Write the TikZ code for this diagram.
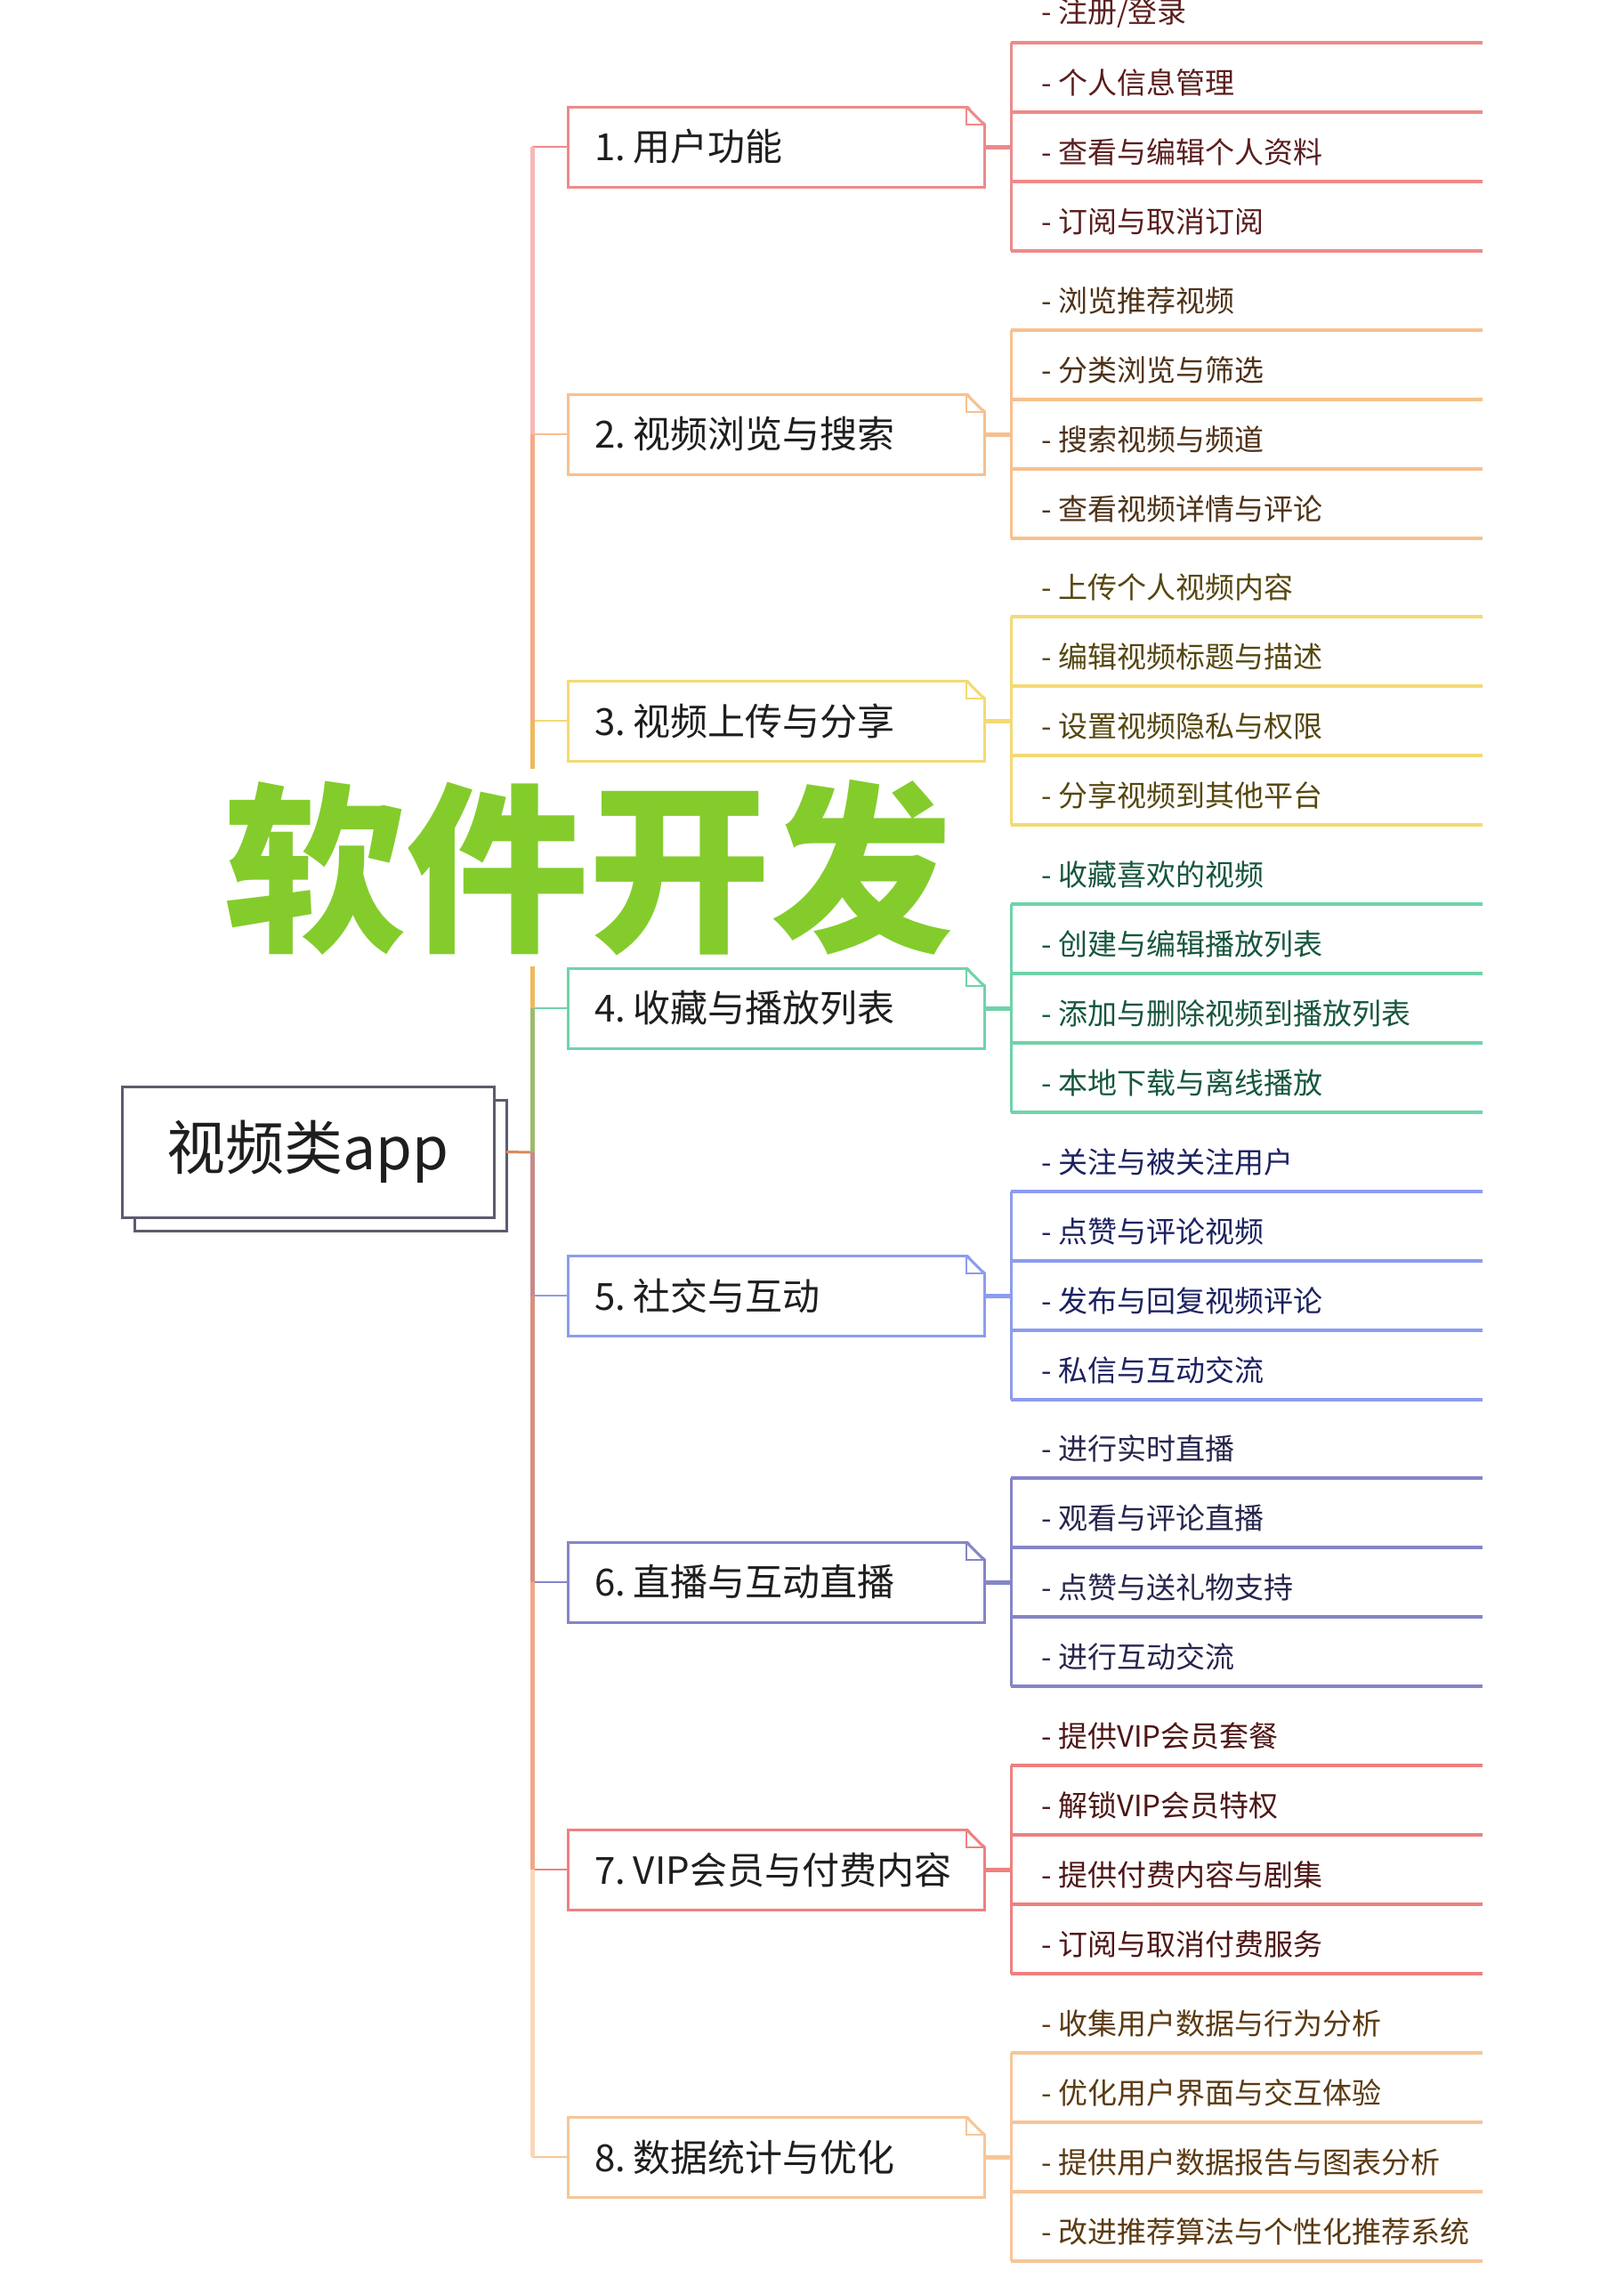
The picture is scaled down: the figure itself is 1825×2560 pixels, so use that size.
\documentclass[tikz,border=0pt]{standalone}
\usepackage{fontspec}
\setmainfont{Noto Sans CJK SC}
\usetikzlibrary{shadows}
\definecolor{g1}{HTML}{EE8A8A}\definecolor{t1}{HTML}{5A1E1E}
\definecolor{g2}{HTML}{F7C08F}\definecolor{t2}{HTML}{4E3218}
\definecolor{g3}{HTML}{F3DA74}\definecolor{t3}{HTML}{55470F}
\definecolor{g4}{HTML}{6FD3AA}\definecolor{t4}{HTML}{17573D}
\definecolor{g5}{HTML}{8C9CEE}\definecolor{t5}{HTML}{1C2260}
\definecolor{g6}{HTML}{8585C8}\definecolor{t6}{HTML}{26264E}
\definecolor{g7}{HTML}{EE8080}\definecolor{t7}{HTML}{4E1616}
\definecolor{g8}{HTML}{F6C698}\definecolor{t8}{HTML}{5A3A12}
\definecolor{tr1}{HTML}{F7B8B8}\definecolor{tr2}{HTML}{F5AA88}
\definecolor{tr3}{HTML}{F0B85A}\definecolor{tr4}{HTML}{9CBB6C}
\definecolor{tr5}{HTML}{C88A8A}\definecolor{tr6}{HTML}{D8907F}
\definecolor{tr7}{HTML}{F2A888}\definecolor{tr8}{HTML}{F9D9B9}
\definecolor{rootline}{HTML}{5C5C6E}\definecolor{mainconn}{HTML}{D88A60}
\definecolor{softgreen}{HTML}{84CC2C}\definecolor{cattext}{HTML}{1E1E1E}
\newcommand{\numgap}{\hspace{9pt}}
\tikzset{
  catbox/.style={rectangle, fill=white, line width=3pt, outer sep=0pt,
    minimum height=90pt, inner xsep=30pt, inner ysep=0pt, text width=408pt,
    align=left, text=cattext, font=\fontsize{42}{48}\selectfont},
  leafnode/.style={anchor=west, inner sep=0pt, font=\fontsize{33}{40}\selectfont},
  underline/.style={line width=4pt},
  bracketline/.style={line width=3pt},
  boxconn/.style={line width=5pt},
  branchconn/.style={line width=2.5pt},
  trunkline/.style={line width=5pt},
  rootbox/.style={rectangle, draw=rootline, fill=white, line width=3pt, outer sep=0pt,
    minimum width=418pt, minimum height=147pt, text=cattext,
    font=\fontsize{66}{72}\selectfont,
    copy shadow={shadow xshift=14pt, shadow yshift=-15pt, draw=rootline, fill=white, line width=3pt}},
}
\newcommand{\mmgroup}[9]{%
  \node[catbox, draw=#3] (c#1) at (872,#2) {\mbox{#1.\numgap#5}};
  \fill[white] ([xshift=-20pt,yshift=3pt]c#1.north east) -- ([xshift=3pt,yshift=3pt]c#1.north east) -- ([xshift=3pt,yshift=-20pt]c#1.north east) -- cycle;
  \draw[#3, line width=3pt] ([xshift=-20pt]c#1.north east) -- ([yshift=-20pt]c#1.north east);
  \draw[#3, line width=2pt] ([xshift=-20pt]c#1.north east) -- ([xshift=-20pt,yshift=-20pt]c#1.north east) -- ([yshift=-20pt]c#1.north east);
  \coordinate (t#1) at (598,#2);
  \draw[#3, branchconn] (t#1) -- (c#1.west);
  \coordinate (j#1) at (1136,#2);
  \draw[#3, boxconn] (c#1.east) -- (j#1);
  \coordinate (ja#1) at (1136,#2-117);
  \coordinate (jb#1) at (1136,#2+117);
  \draw[#3, bracketline] (ja#1) -- (jb#1);
  \foreach \o/\n in {-117/a,-39/b,39/c,117/d}{
    \coordinate (u#1\n) at (1136,#2+\o);
    \coordinate (v#1\n) at (1666,#2+\o);
    \draw[#3, underline] (u#1\n) -- (v#1\n);
  }
  \node[leafnode, text=t#1] (l#1a) at (1170,#2-150) {- #6};
  \node[leafnode, text=t#1] (l#1b) at (1170,#2-72) {- #7};
  \node[leafnode, text=t#1] (l#1c) at (1170,#2+6) {- #8};
  \node[leafnode, text=t#1] (l#1d) at (1170,#2+84) {- #9};
}
\begin{document}
\begin{tikzpicture}[x=1pt,y=-1pt]
\useasboundingbox (0,0) rectangle (1825,2560);
\fill[white] (0,0) rectangle (1825,2560);

\mmgroup{1}{165}{g1}{t1}{用户功能}{注册/登录}{个人信息管理}{查看与编辑个人资料}{订阅与取消订阅}
\mmgroup{2}{488}{g2}{t2}{视频浏览与搜索}{浏览推荐视频}{分类浏览与筛选}{搜索视频与频道}{查看视频详情与评论}
\mmgroup{3}{810}{g3}{t3}{视频上传与分享}{上传个人视频内容}{编辑视频标题与描述}{设置视频隐私与权限}{分享视频到其他平台}
\mmgroup{4}{1133}{g4}{t4}{收藏与播放列表}{收藏喜欢的视频}{创建与编辑播放列表}{添加与删除视频到播放列表}{本地下载与离线播放}
\mmgroup{5}{1456}{g5}{t5}{社交与互动}{关注与被关注用户}{点赞与评论视频}{发布与回复视频评论}{私信与互动交流}
\mmgroup{6}{1778}{g6}{t6}{直播与互动直播}{进行实时直播}{观看与评论直播}{点赞与送礼物支持}{进行互动交流}
\mmgroup{7}{2101}{g7}{t7}{VIP会员与付费内容}{提供VIP会员套餐}{解锁VIP会员特权}{提供付费内容与剧集}{订阅与取消付费服务}
\mmgroup{8}{2424}{g8}{t8}{数据统计与优化}{收集用户数据与行为分析}{优化用户界面与交互体验}{提供用户数据报告与图表分析}{改进推荐算法与个性化推荐系统}

% root
\node[rootbox] (root) at (346,1294.5) {视频类app};
\coordinate (tm) at (598,1295);
\draw[mainconn, line width=3pt] ([xshift=14pt]root.east) -- (tm);

% trunk
\draw[tr1, trunkline] (t1) -- (t2);
\draw[tr2, trunkline] (t2) -- (t3);
\draw[tr3, trunkline] (t3) -- (t4);
\draw[tr4, trunkline] (t4) -- (tm);
\draw[tr5, trunkline] (tm) -- (t5);
\draw[tr6, trunkline] (t5) -- (t6);
\draw[tr7, trunkline] (t6) -- (t7);
\draw[tr8, trunkline] (t7) -- (t8);

% overlay title
\node[fill=white, inner sep=0pt, minimum width=820pt, minimum height=222pt,
  text=softgreen, font=\fontsize{205}{205}\selectfont\bfseries] (title) at (661,975) {软件开发};
\end{tikzpicture}
\end{document}
